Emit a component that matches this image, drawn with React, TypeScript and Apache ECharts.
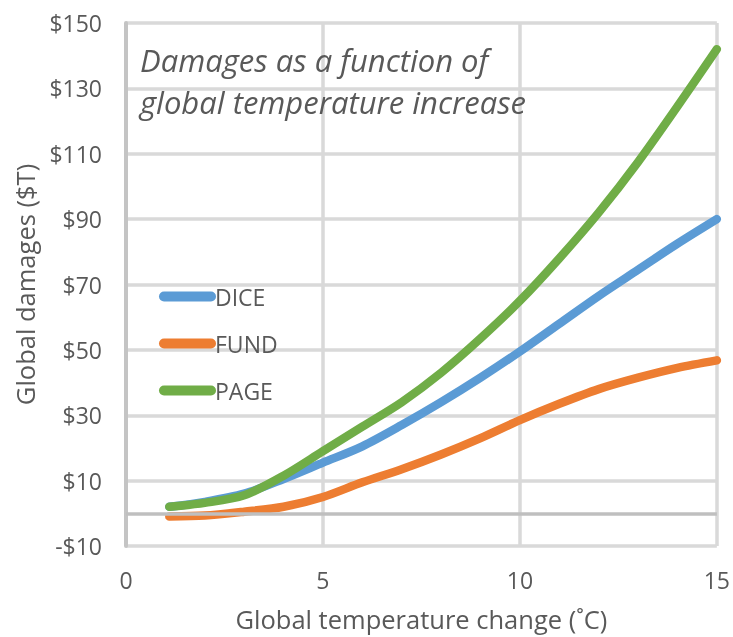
import React, { useEffect, useRef } from "react";
import * as echarts from "echarts";

const temps = [1.1, 2, 3, 4, 5, 6, 7, 8, 9, 10, 11, 12, 13, 14, 15];
const dice = [2, 3.5, 6, 10.5, 15.5, 20.5, 27, 34, 41.5, 49.5, 58, 66.5, 74.5, 82.5, 90];
const fund = [-1, -0.7, 0.5, 2, 5, 9.5, 13.5, 18, 23, 28.5, 33.5, 38, 41.5, 44.5, 46.8];
const page = [2, 3.2, 5.5, 11.5, 19, 26.5, 34, 43, 53.5, 65, 78, 92, 107.5, 124.5, 142];
const seriesNames = ["DICE", "FUND", "PAGE"];
const seriesColors = ["#5b9bd5", "#ed7d31", "#70ad47"];
const yTicks = { min: -10, max: 150, interval: 20 };
const xTicks = { min: 0, max: 15, interval: 5 };
const titleLines = ["Damages as a function of", "global temperature increase"];

const FONT = "'Open Sans', sans-serif";
const TXT = "#595959";
const capsule = "path://M5,0 L52,0 A5,5 0 0 1 52,10 L5,10 A5,5 0 0 1 5,0 Z";

export default function App() {
  const ref = useRef<HTMLDivElement>(null);
  useEffect(() => {
    if (!ref.current) return;
    const chart = echarts.init(ref.current, null, { renderer: "svg" });
    const values = [dice, fund, page];
    chart.setOption({
      animation: false,
      textStyle: { fontFamily: FONT },
      title: {
        text: titleLines.join("\n"),
        left: 140,
        top: 39,
        padding: 0,
        textStyle: {
          fontFamily: FONT,
          fontStyle: "italic",
          fontWeight: "normal",
          fontSize: 31,
          lineHeight: 42,
          color: TXT,
        },
      },
      legend: {
        data: seriesNames,
        orient: "vertical",
        left: 154,
        top: 280,
        itemGap: 24,
        itemWidth: 57,
        itemHeight: 10,
        icon: capsule,
        textStyle: { fontFamily: FONT, fontSize: 23, color: TXT, padding: [0, 0, 0, -6] },
      },
      grid: { left: 126, right: 13, top: 23, bottom: 91, containLabel: false },
      xAxis: {
        type: "value",
        min: xTicks.min,
        max: xTicks.max,
        interval: xTicks.interval,
        name: "Global temperature change (˚C)",
        nameLocation: "middle",
        nameGap: 60,
        nameTextStyle: { fontFamily: FONT, fontSize: 25.5, color: TXT },
        axisLine: { show: false },
        axisTick: { show: false },
        axisLabel: { fontFamily: FONT, fontSize: 23, color: TXT, margin: 22 },
        splitLine: { show: true, lineStyle: { color: "#d9d9d9", width: 3.5 } },
      },
      yAxis: {
        type: "value",
        min: yTicks.min,
        max: yTicks.max,
        interval: yTicks.interval,
        name: "Global damages ($T)",
        nameLocation: "middle",
        nameGap: 88,
        nameTextStyle: { fontFamily: FONT, fontSize: 25.5, color: TXT },
        axisLine: { show: true, onZero: false, lineStyle: { color: "#c4c4c4", width: 4 } },
        axisTick: { show: false },
        axisLabel: {
          fontFamily: FONT,
          fontSize: 23,
          color: TXT,
          margin: 24,
          formatter: (v: number) => (v < 0 ? "-$" + Math.abs(v) : "$" + v),
        },
        splitLine: { show: true, lineStyle: { color: "#d9d9d9", width: 3.5 } },
      },
      series: [
        {
          type: "line",
          name: "zero",
          data: [],
          z: 1,
          silent: true,
          markLine: {
            silent: true,
            symbol: "none",
            label: { show: false },
            lineStyle: { color: "#bfbfbf", width: 3.5, type: "solid" },
            data: [{ yAxis: 0 }],
          },
        },
        ...seriesNames.map((n, i) => ({
          type: "line",
          name: n,
          data: temps.map((t, j) => [t, values[i][j]]),
          smooth: 0.3,
          showSymbol: false,
          symbol: "none",
          z: 3,
          color: seriesColors[i],
          lineStyle: { color: seriesColors[i], width: 8.5, cap: "round", join: "round" },
        })),
      ],
    });
    return () => chart.dispose();
  }, []);
  return (
    <div
      ref={ref}
      style={{ position: "fixed", left: 0, top: 0, width: 733, height: 637 }}
    />
  );
}
